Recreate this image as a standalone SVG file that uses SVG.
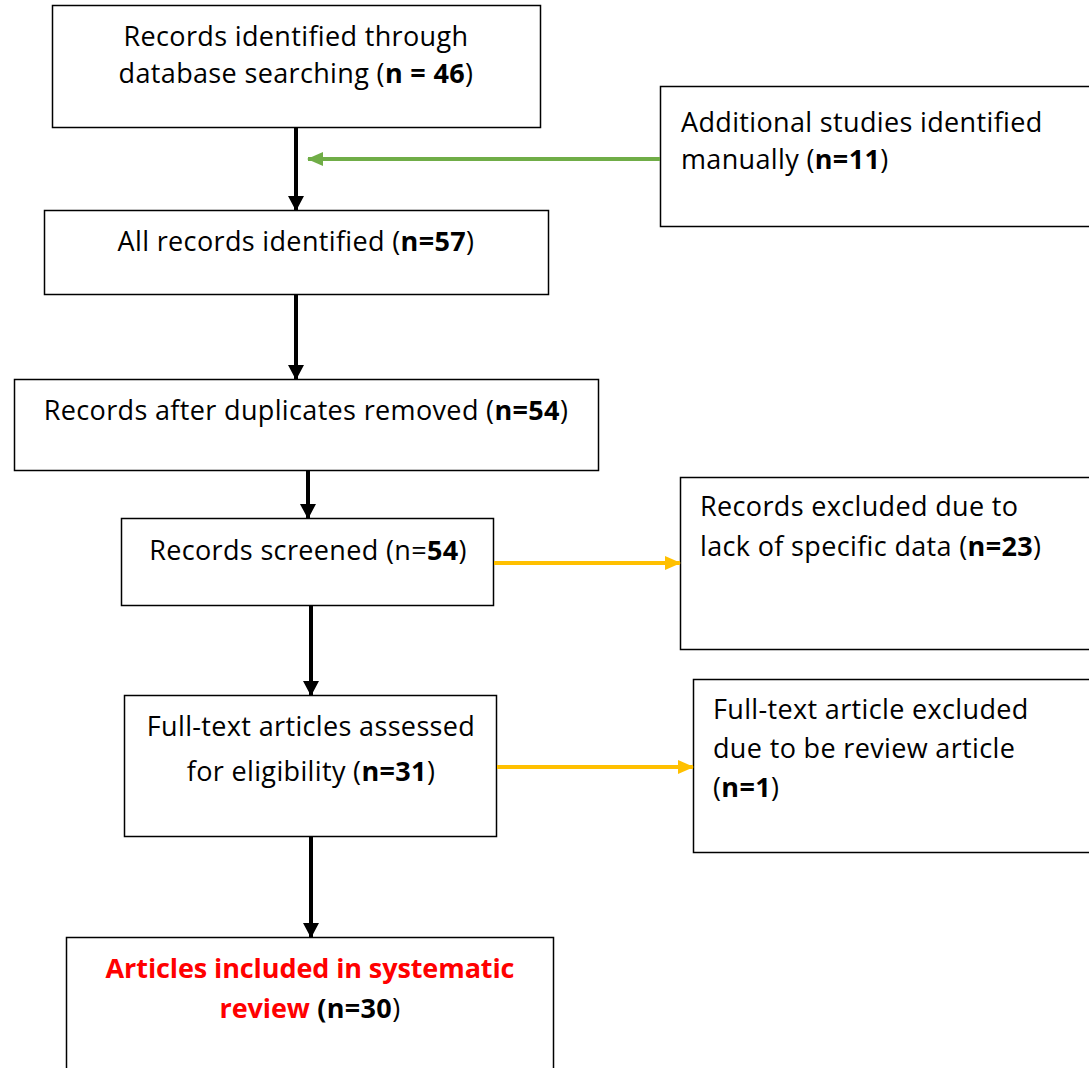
<svg xmlns="http://www.w3.org/2000/svg" width="1089" height="1068" viewBox="0 0 1089 1068">
<style>
.box{fill:#fff;stroke:#000;stroke-width:1.5}
text{font-family:"Open Sans","Noto Sans",sans-serif;font-size:27px;letter-spacing:0.35px;fill:#000}
.c{text-anchor:middle}
.b{font-weight:bold}
.red{fill:#ff0000;font-weight:bold;letter-spacing:-0.1px}
.blk{stroke:#000;stroke-width:4;fill:none}
.grn{stroke:#70ad47;stroke-width:4;fill:none}
.yel{stroke:#ffc000;stroke-width:4;fill:none}
</style>
<defs>
<marker id="ab" markerUnits="userSpaceOnUse" markerWidth="16" markerHeight="16" refX="14" refY="8" orient="auto"><path d="M0,0 L15,8 L0,16 Z" fill="#000"/></marker>
<marker id="ag" markerUnits="userSpaceOnUse" markerWidth="16" markerHeight="14" refX="15" refY="7" orient="auto"><path d="M0,0 L16,7 L0,14 Z" fill="#70ad47"/></marker>
<marker id="ay" markerUnits="userSpaceOnUse" markerWidth="16" markerHeight="14" refX="15" refY="7" orient="auto"><path d="M0,0 L16,7 L0,14 Z" fill="#ffc000"/></marker>
</defs>
<g id="n1"><rect class="box" x="52.5" y="5.5" width="488" height="122"/>
<text class="c" x="296" y="46">Records identified through</text>
<text class="c" x="296" y="83">database searching (<tspan class="b">n = 46</tspan>)</text></g>
<g id="n2"><rect class="box" x="660.5" y="86.5" width="440" height="140"/>
<text x="681" y="132">Additional studies identified</text>
<text x="681" y="169">manually (<tspan class="b">n=11</tspan>)</text></g>
<g id="n3"><rect class="box" x="44.5" y="210.5" width="504" height="84"/>
<text class="c" x="296" y="251">All records identified (<tspan class="b">n=57</tspan>)</text></g>
<g id="n4"><rect class="box" x="14.5" y="379.5" width="584" height="91"/>
<text class="c" x="306" y="420">Records after duplicates removed (<tspan class="b">n=54</tspan>)</text></g>
<g id="n5"><rect class="box" x="121.5" y="518.5" width="372" height="87"/>
<text class="c" x="308" y="560">Records screened (n=<tspan class="b">54</tspan>)</text></g>
<g id="n6"><rect class="box" x="680.5" y="477.5" width="420" height="172"/>
<text x="700" y="516">Records excluded due to</text>
<text x="700" y="556">lack of specific data (<tspan class="b">n=23</tspan>)</text></g>
<g id="n7"><rect class="box" x="124.5" y="695.5" width="372" height="141"/>
<text class="c" x="311" y="736">Full-text articles assessed</text>
<text class="c" x="311" y="781">for eligibility (<tspan class="b">n=31</tspan>)</text></g>
<g id="n8"><rect class="box" x="693.5" y="679.5" width="410" height="173"/>
<text x="713" y="719">Full-text article excluded</text>
<text x="713" y="758">due to be review article</text>
<text x="713" y="797">(<tspan class="b">n=1</tspan>)</text></g>
<g id="n9"><rect class="box" x="66.5" y="937.5" width="487" height="140"/>
<text class="c" x="310" y="978"><tspan class="red">Articles included in systematic</tspan></text>
<text class="c" x="310" y="1018"><tspan class="red">review</tspan> <tspan class="b">(n=30</tspan>)</text></g>
<g id="connectors">
<line class="blk" x1="296" y1="128" x2="296" y2="210" marker-end="url(#ab)"/>
<line class="grn" x1="660" y1="159" x2="308" y2="159" marker-end="url(#ag)"/>
<line class="blk" x1="296" y1="295" x2="296" y2="379" marker-end="url(#ab)"/>
<line class="blk" x1="308" y1="471" x2="308" y2="518" marker-end="url(#ab)"/>
<line class="blk" x1="311" y1="606" x2="311" y2="695" marker-end="url(#ab)"/>
<line class="blk" x1="311" y1="837" x2="311" y2="937" marker-end="url(#ab)"/>
<line class="yel" x1="494" y1="563" x2="680" y2="563" marker-end="url(#ay)"/>
<line class="yel" x1="497" y1="767" x2="693" y2="767" marker-end="url(#ay)"/>
</g>
</svg>
